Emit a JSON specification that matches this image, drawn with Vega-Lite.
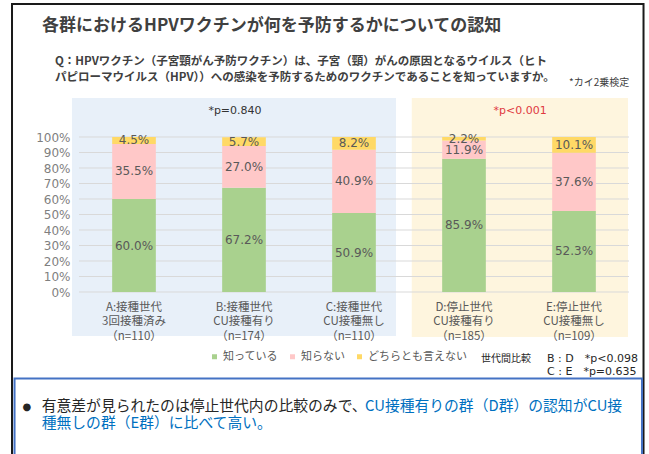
{
  "$schema": "https://vega.github.io/schema/vega-lite/v6.json",
  "width": 550,
  "height": 155,
  "autosize": "none",
  "padding": {"left": 79, "top": 137, "right": 20, "bottom": 162},
  "background": "white",
  "config": {"view": {"stroke": null}},
  "layer": [
    {
      "data": {"values": [{"k": "frame"}]},
      "mark": {"type": "rect", "filled": false, "stroke": "#1a1a1a", "strokeWidth": 2, "clip": false},
      "encoding": {
        "x": {"datum": "A:接種世代|3回接種済み|（n=110）", "type": "nominal", "bandPosition": -0.609},
        "x2": {"datum": "E:停止世代|CU接種無し|（n=109）", "bandPosition": 1.132},
        "y": {
          "datum": 1.858, "type": "quantitative",
          "scale": {"domain": [0, 1], "nice": false},
          "axis": {"title": null, "grid": false, "domain": false, "ticks": false, "labelOverlap": false, "labelSeparation": 0, "tickCount": 11, "values": [0, 0.1, 0.2, 0.3, 0.4, 0.5, 0.6, 0.7, 0.8, 0.9, 1.0], "format": ".0%", "labelFont": "DejaVu Sans", "labelFontSize": 12, "labelColor": "#7f7f7f", "labelPadding": 9, "zindex": 1}
        },
        "y2": {"datum": -1.148}
      }
    },
    {
      "data": {"values": [{"k": "接種世代"}]},
      "mark": {"type": "rect", "color": "#e8f0f9", "clip": false},
      "encoding": {
        "x": {"datum": "A:接種世代|3回接種済み|（n=110）", "type": "nominal", "bandPosition": -0.064},
        "x2": {"datum": "C:接種世代|CU接種無し|（n=110）", "bandPosition": 0.882},
        "y": {"datum": 1.252, "type": "quantitative"},
        "y2": {"datum": -0.284}
      }
    },
    {
      "data": {"values": [{"k": "停止世代"}]},
      "mark": {"type": "rect", "color": "#fef5de", "clip": false},
      "encoding": {
        "x": {"datum": "D:停止世代|CU接種有り|（n=185）", "type": "nominal", "bandPosition": 0.025},
        "x2": {"datum": "E:停止世代|CU接種無し|（n=109）", "bandPosition": 0.991},
        "y": {"datum": 1.252, "type": "quantitative"},
        "y2": {"datum": -0.29}
      }
    },
    {
      "data": {"values": [{"g": 0}, {"g": 0.1}, {"g": 0.2}, {"g": 0.3}, {"g": 0.4}, {"g": 0.5}, {"g": 0.6}, {"g": 0.7}, {"g": 0.8}, {"g": 0.9}, {"g": 1.0}]},
      "mark": {"type": "rule", "color": "#d9d9d9", "strokeWidth": 1},
      "encoding": {"y": {"field": "g", "type": "quantitative"}}
    },
    {
      "data": {"name": "main", "values": [
        {"群": "A:接種世代|3回接種済み|（n=110）", "回答": "知っている", "割合": 0.600, "順": 1},
        {"群": "A:接種世代|3回接種済み|（n=110）", "回答": "知らない", "割合": 0.355, "順": 2},
        {"群": "A:接種世代|3回接種済み|（n=110）", "回答": "どちらとも言えない", "割合": 0.045, "順": 3},
        {"群": "B:接種世代|CU接種有り|（n=174）", "回答": "知っている", "割合": 0.672, "順": 1},
        {"群": "B:接種世代|CU接種有り|（n=174）", "回答": "知らない", "割合": 0.270, "順": 2},
        {"群": "B:接種世代|CU接種有り|（n=174）", "回答": "どちらとも言えない", "割合": 0.057, "順": 3},
        {"群": "C:接種世代|CU接種無し|（n=110）", "回答": "知っている", "割合": 0.509, "順": 1},
        {"群": "C:接種世代|CU接種無し|（n=110）", "回答": "知らない", "割合": 0.409, "順": 2},
        {"群": "C:接種世代|CU接種無し|（n=110）", "回答": "どちらとも言えない", "割合": 0.082, "順": 3},
        {"群": "D:停止世代|CU接種有り|（n=185）", "回答": "知っている", "割合": 0.859, "順": 1},
        {"群": "D:停止世代|CU接種有り|（n=185）", "回答": "知らない", "割合": 0.119, "順": 2},
        {"群": "D:停止世代|CU接種有り|（n=185）", "回答": "どちらとも言えない", "割合": 0.022, "順": 3},
        {"群": "E:停止世代|CU接種無し|（n=109）", "回答": "知っている", "割合": 0.523, "順": 1},
        {"群": "E:停止世代|CU接種無し|（n=109）", "回答": "知らない", "割合": 0.376, "順": 2},
        {"群": "E:停止世代|CU接種無し|（n=109）", "回答": "どちらとも言えない", "割合": 0.101, "順": 3}
      ]},
      "transform": [{"stack": "割合", "groupby": ["群"], "sort": [{"field": "順"}], "as": ["y0", "y1"]}],
      "layer": [
        {
          "mark": {"type": "bar", "width": {"band": 0.397}},
          "encoding": {
            "x": {
              "field": "群", "type": "nominal",
              "scale": {"domain": ["A:接種世代|3回接種済み|（n=110）", "B:接種世代|CU接種有り|（n=174）", "C:接種世代|CU接種無し|（n=110）", "D:停止世代|CU接種有り|（n=185）", "E:停止世代|CU接種無し|（n=109）"], "paddingInner": 0, "paddingOuter": 0},
              "axis": {"title": null, "domain": false, "ticks": false, "bandPosition": 0.5, "labelAngle": 0, "labelAlign": "center", "labelPadding": 15, "labelFont": "Noto Sans CJK JP", "labelFontSize": 11.5, "labelColor": "#595959", "labelLineHeight": 14.7, "labelExpr": "split(datum.label, '|')", "zindex": 1}
            },
            "y": {
              "field": "y0", "type": "quantitative",
              "axis": {"title": null, "grid": false, "domain": false, "ticks": false, "labelOverlap": false, "labelSeparation": 0, "tickCount": 11, "values": [0, 0.1, 0.2, 0.3, 0.4, 0.5, 0.6, 0.7, 0.8, 0.9, 1.0], "format": ".0%", "labelFont": "DejaVu Sans", "labelFontSize": 12, "labelColor": "#7f7f7f", "labelPadding": 9, "zindex": 1}
            },
            "y2": {"field": "y1"},
            "color": {
              "field": "回答", "type": "nominal",
              "scale": {"domain": ["知っている", "知らない", "どちらとも言えない"], "range": ["#a9d18e", "#ffc8c8", "#ffd966"]},
              "legend": {"title": null, "orient": "none", "direction": "horizontal", "legendX": 130, "legendY": 214, "symbolType": "square", "symbolSize": 25, "symbolStrokeWidth": 0, "labelFont": "Noto Sans CJK JP", "labelFontSize": 11, "labelColor": "#595959", "labelOffset": 3, "columnPadding": 9, "padding": 0}
            }
          }
        },
        {
          "transform": [
            {"fold": ["y0", "y1"], "as": ["端", "位置"]},
            {"aggregate": [{"op": "mean", "field": "位置", "as": "中央"}], "groupby": ["群", "回答", "割合"]}
          ],
          "mark": {"type": "text", "font": "DejaVu Sans", "fontSize": 12, "color": "#595959", "baseline": "middle"},
          "encoding": {
            "x": {"field": "群", "type": "nominal"},
            "y": {"field": "中央", "type": "quantitative"},
            "text": {"field": "割合", "type": "quantitative", "format": ".1%"}
          }
        }
      ]
    },
    {
      "data": {"values": [{"t": "*p=0.840"}]},
      "mark": {"type": "text", "font": "DejaVu Sans", "fontSize": 11, "color": "#333333", "baseline": "middle", "align": "center"},
      "encoding": {
        "x": {"datum": "B:接種世代|CU接種有り|（n=174）", "type": "nominal", "bandPosition": 0.418},
        "y": {"datum": 1.168, "type": "quantitative"},
        "text": {"field": "t"}
      }
    },
    {
      "data": {"values": [{"t": "*p<0.001"}]},
      "mark": {"type": "text", "font": "DejaVu Sans", "fontSize": 11, "color": "#e0393e", "baseline": "middle", "align": "center"},
      "encoding": {
        "x": {"datum": "E:停止世代|CU接種無し|（n=109）", "type": "nominal", "bandPosition": 0.01},
        "y": {"datum": 1.168, "type": "quantitative"},
        "text": {"field": "t"}
      }
    },
    {
      "data": {"values": [{"t": "各群におけるHPVワクチンが何を予防するかについての認知"}]},
      "mark": {"type": "text", "font": "Noto Sans CJK JP", "fontSize": 17, "fontWeight": "bold", "color": "#404040", "baseline": "middle", "align": "left"},
      "encoding": {
        "x": {"datum": "A:接種世代|3回接種済み|（n=110）", "type": "nominal", "bandPosition": -0.336},
        "y": {"datum": 1.719, "type": "quantitative"},
        "text": {"field": "t"}
      }
    },
    {
      "data": {"values": [{"t": ["Q：HPVワクチン（子宮頸がん予防ワクチン）は、子宮（頸）がんの原因となるウイルス（ヒト", "パピローマウイルス（HPV））への感染を予防するためのワクチンであることを知っていますか。"]}]},
      "mark": {"type": "text", "font": "Noto Sans CJK JP", "fontSize": 11.5, "fontWeight": "bold", "color": "#404040", "baseline": "middle", "align": "left", "lineHeight": 16.5},
      "encoding": {
        "x": {"datum": "A:接種世代|3回接種済み|（n=110）", "type": "nominal", "bandPosition": -0.218},
        "y": {"datum": 1.487, "type": "quantitative"},
        "text": {"field": "t"}
      }
    },
    {
      "data": {"values": [{"t": "*カイ2乗検定"}]},
      "mark": {"type": "text", "font": "Noto Sans CJK JP", "fontSize": 10, "color": "#404040", "baseline": "middle", "align": "left"},
      "encoding": {
        "x": {"datum": "E:停止世代|CU接種無し|（n=109）", "type": "nominal", "bandPosition": 0.455},
        "y": {"datum": 1.346, "type": "quantitative"},
        "text": {"field": "t"}
      }
    },
    {
      "data": {"values": [{"t": "世代間比較"}]},
      "mark": {"type": "text", "font": "Noto Sans CJK JP", "fontSize": 10, "color": "#262626", "baseline": "middle", "align": "left"},
      "encoding": {
        "x": {"datum": "D:停止世代|CU接種有り|（n=185）", "type": "nominal", "bandPosition": 0.655},
        "y": {"datum": -0.432, "type": "quantitative"},
        "text": {"field": "t"}
      }
    },
    {
      "data": {"values": [{"t": ["B : D　*p<0.098", "C : E　*p=0.635"]}]},
      "mark": {"type": "text", "font": "DejaVu Sans", "fontSize": 11, "color": "#262626", "baseline": "middle", "align": "left", "lineHeight": 12.7},
      "encoding": {
        "x": {"datum": "E:停止世代|CU接種無し|（n=109）", "type": "nominal", "bandPosition": 0.255},
        "y": {"datum": -0.432, "type": "quantitative"},
        "text": {"field": "t"}
      }
    },
    {
      "data": {"values": [{"k": "box"}]},
      "mark": {"type": "rect", "filled": false, "stroke": "#4472c4", "strokeWidth": 2, "clip": false},
      "encoding": {
        "x": {"datum": "A:接種世代|3回接種済み|（n=110）", "type": "nominal", "bandPosition": -0.586},
        "x2": {"datum": "E:停止世代|CU接種無し|（n=109）", "bandPosition": 1.118},
        "y": {"datum": -0.558, "type": "quantitative"},
        "y2": {"datum": -1.148}
      }
    },
    {
      "data": {"values": [{"t": "●"}]},
      "mark": {"type": "text", "font": "DejaVu Sans", "fontSize": 10, "color": "#262626", "baseline": "middle", "align": "center"},
      "encoding": {
        "x": {"datum": "A:接種世代|3回接種済み|（n=110）", "type": "nominal", "bandPosition": -0.473},
        "y": {"datum": -0.742, "type": "quantitative"},
        "text": {"field": "t"}
      }
    },
    {
      "data": {"values": [{"t": "有意差が見られたのは停止世代内の比較のみで、"}]},
      "mark": {"type": "text", "font": "Noto Sans CJK JP", "fontSize": 14.8, "color": "#262626", "baseline": "middle", "align": "left"},
      "encoding": {
        "x": {"datum": "A:接種世代|3回接種済み|（n=110）", "type": "nominal", "bandPosition": -0.339},
        "y": {"datum": -0.742, "type": "quantitative"},
        "text": {"field": "t"}
      }
    },
    {
      "data": {"values": [{"t": "CU接種有りの群（D群）の認知がCU接"}]},
      "mark": {"type": "text", "font": "Noto Sans CJK JP", "fontSize": 14.8, "color": "#0070c0", "baseline": "middle", "align": "left"},
      "encoding": {
        "x": {"datum": "C:接種世代|CU接種無し|（n=110）", "type": "nominal", "bandPosition": 0.6},
        "y": {"datum": -0.742, "type": "quantitative"},
        "text": {"field": "t"}
      }
    },
    {
      "data": {"values": [{"t": "種無しの群（E群）に比べて高い。"}]},
      "mark": {"type": "text", "font": "Noto Sans CJK JP", "fontSize": 14.8, "color": "#0070c0", "baseline": "middle", "align": "left"},
      "encoding": {
        "x": {"datum": "A:接種世代|3回接種済み|（n=110）", "type": "nominal", "bandPosition": -0.339},
        "y": {"datum": -0.852, "type": "quantitative"},
        "text": {"field": "t"}
      }
    }
  ]
}
